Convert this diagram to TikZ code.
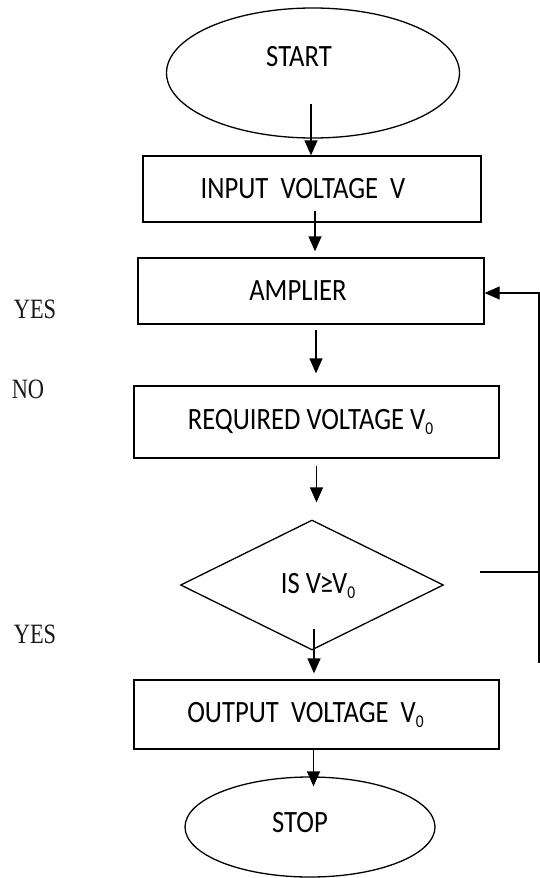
\documentclass[tikz,border=0pt]{standalone}
\usepackage{fontspec}
\setmainfont{Carlito}[FakeStretch=0.86]
\newfontfamily\lserif{Liberation Serif}[FakeStretch=0.8]
\newcommand{\subzero}{\raisebox{-5pt}{\fontsize{18}{18}\selectfont 0}}
\usetikzlibrary{shapes.geometric,arrows.meta}
\begin{document}
\begin{tikzpicture}[x=1pt,y=-1pt,
  shapeline/.style={draw=black,line width=1.3pt,inner sep=0pt},
  term/.style={shapeline,ellipse},
  box/.style={shapeline,rectangle},
  dec/.style={shapeline,diamond},
  txt/.style={font=\fontsize{31}{36}\selectfont,inner sep=0pt,text=black},
  side/.style={font=\lserif\fontsize{28}{32}\selectfont,inner sep=0pt,text=black!90},
  arr/.style={line width=1.3pt,-{Triangle[length=15pt,width=13pt]}},
  fb/.style={line width=1.3pt}]
\useasboundingbox (0,0) rectangle (540,878);

\node[term,minimum width=293pt,minimum height=130pt,
  label={[txt,xshift=-14pt,yshift=16pt]center:START}] (start) at (313,73) {};
\node[box,minimum width=338pt,minimum height=66pt,
  label={[txt,xshift=-9pt]center:INPUT\ \ VOLTAGE\ \ V}] (input) at (312,189) {};
\node[box,minimum width=346pt,minimum height=66pt,
  label={[txt,xshift=-13pt]center:AMPLIER}] (amp) at (311,291) {};
\node[box,minimum width=365pt,minimum height=72pt,
  label={[txt,xshift=-6pt]center:REQUIRED VOLTAGE V\subzero}] (req) at (316.5,422) {};
\node[dec,minimum width=263pt,minimum height=130pt,
  label={[txt,xshift=6pt,yshift=-1pt]center:IS V\kern-1pt≥\kern-1ptV\subzero}] (dia) at (312,585) {};
\node[box,minimum width=365pt,minimum height=69pt,
  label={[txt,xshift=-11pt]center:OUTPUT\ \ VOLTAGE\ \ V\subzero}] (out) at (316.5,714.5) {};
\node[term,minimum width=250pt,minimum height=100pt,
  label={[txt,xshift=-10pt,yshift=4pt]center:STOP}] (stop) at (310,827) {};

\node[side] (yes1) at (35,309) {YES};
\node[side] (no1) at (28,389) {NO};
\node[side] (yes2) at (35,634) {YES};

% connectors
\draw[arr] ([xshift=-2pt,yshift=35pt]start.south) -- ([xshift=-2pt]start.south |- input.north);
\draw[arr] ([xshift=3pt,yshift=12pt]input.south) -- ([xshift=3pt,yshift=6pt]input.south |- amp.north);
\draw[arr] ([xshift=5pt,yshift=-5pt]amp.south) -- ([xshift=5pt,yshift=12pt]amp.south |- req.north);
\draw[arr] ([yshift=-7pt]req.south) -- ([yshift=17pt]req.south |- dia.north);
\draw[arr] ([xshift=2pt,yshift=22pt]dia.south) -- ([xshift=2pt,yshift=6pt]dia.south |- out.north);
\draw[arr] ([xshift=-3pt]out.south) -- ([xshift=-3pt,yshift=-10pt]out.south |- stop.north);

% feedback loop
\coordinate (fbA) at (480,572);
\coordinate (fbB) at (539,572);
\coordinate (fbC) at (539,663);
\draw[fb] (fbA) -- (fbB);
\draw[arr] (fbC) |- ([yshift=-2pt]amp.east);
\end{tikzpicture}
\end{document}
